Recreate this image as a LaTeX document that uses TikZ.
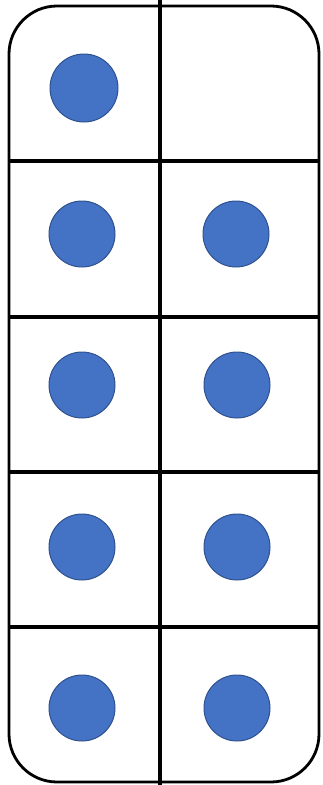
\documentclass[tikz,border=0pt]{standalone}
\definecolor{dotblue}{HTML}{4472C4}
\definecolor{dotedge}{HTML}{2F528F}
\begin{document}
\begin{tikzpicture}[x=1pt, y=-1pt,
    grid/.style={line width=3.5pt, black},
    dot/.style={circle, fill=dotblue, draw=dotedge, line width=1pt,
        minimum width=65pt, minimum height=66pt, inner sep=0pt}]
    \useasboundingbox (0,0) rectangle (322,785);

    % 外框
    \draw[line width=2.8pt, rounded corners=48pt] (9,6) rectangle (319,782);

    % 中间竖线
    \draw[grid] (160,0) -- (160,785);

    % 横线
    \draw[grid] (9,161) -- (319,161);
    \draw[grid] (9,317) -- (319,317);
    \draw[grid] (9,472) -- (319,472);
    \draw[grid] (9,627) -- (319,627);

    % 圆点
    \node[dot, minimum width=68pt, minimum height=68pt] (a1) at (84,88) {};
    \node[dot] (a2) at (82,234) {};
    \node[dot] (b2) at (236,234) {};
    \node[dot] (a3) at (82,385) {};
    \node[dot] (b3) at (237,385) {};
    \node[dot] (a4) at (82,547) {};
    \node[dot] (b4) at (237,547) {};
    \node[dot] (a5) at (82,708) {};
    \node[dot] (b5) at (237,708) {};
\end{tikzpicture}
\end{document}
